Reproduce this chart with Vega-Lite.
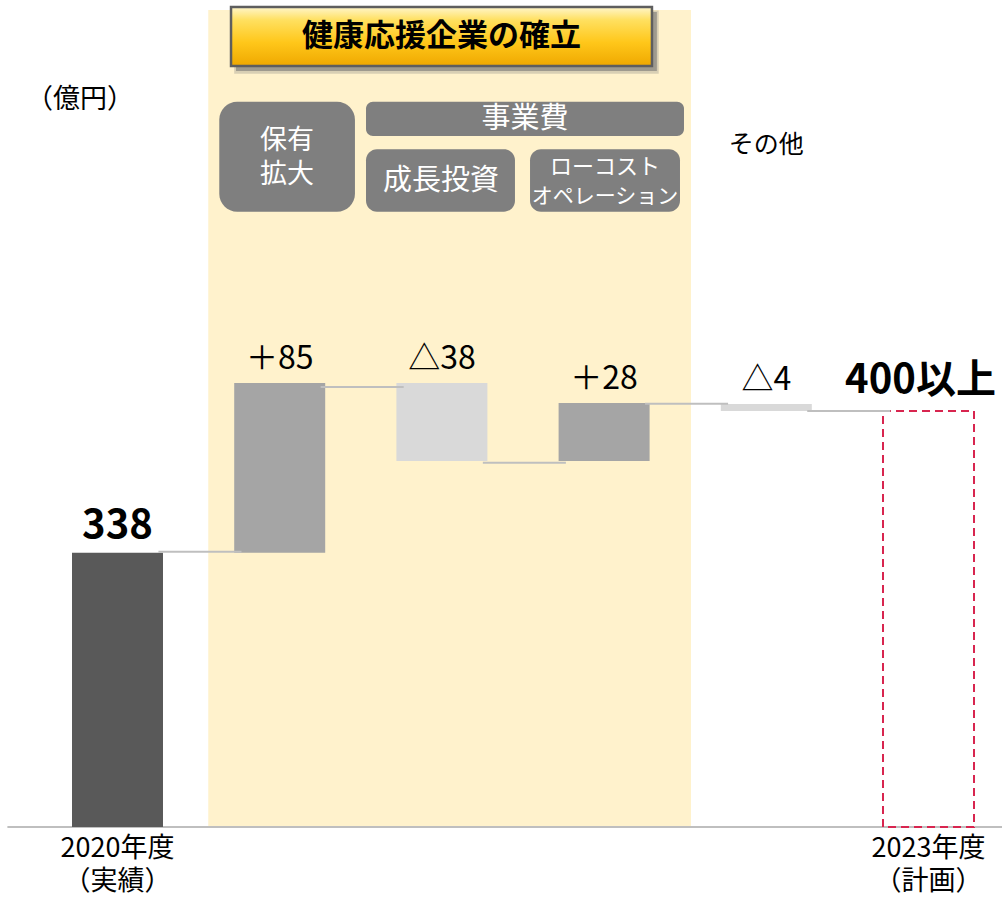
{
  "$schema": "https://vega.github.io/schema/vega-lite/v6.json",
  "width": 1002,
  "height": 898,
  "autosize": "none",
  "padding": 0,
  "background": "white",
  "config": {
    "view": {"stroke": null},
    "font": "Noto Sans CJK JP",
    "axis": {"disable": true},
    "text": {"font": "Noto Sans CJK JP"}
  },
  "datasets": {
    "bars": [
      {"cat": "2020年度", "start": 0, "end": 338, "kind": "実績", "label": "338", "axis1": "2020年度", "axis2": "（実績）"},
      {"cat": "保有拡大", "start": 338, "end": 547.1, "kind": "増加", "label": "＋85"},
      {"cat": "成長投資", "start": 547.1, "end": 451.0, "kind": "減少", "label": "△38"},
      {"cat": "ローコスト", "start": 451.0, "end": 522.5, "kind": "増加", "label": "＋28"},
      {"cat": "その他", "start": 521.2, "end": 512.6, "kind": "減少", "label": "△4"},
      {"cat": "2023年度", "start": 0, "end": 512.6, "kind": "計画", "label": "400以上", "axis1": "2023年度", "axis2": "（計画）"}
    ],
    "links": [
      {"from": "2020年度", "to": "保有拡大", "level": 339.2},
      {"from": "保有拡大", "to": "成長投資", "level": 542.2},
      {"from": "成長投資", "to": "ローコスト", "level": 448.9},
      {"from": "ローコスト", "to": "その他", "level": 521.6},
      {"from": "その他", "to": "2023年度", "level": 512.6}
    ]
  },
  "layer": [
    {
      "data": {"values": [{"zone": "健康応援企業の確立"}]},
      "mark": {"type": "rect", "fill": "#FFF2CC"},
      "encoding": {
        "x": {"datum": "保有拡大", "type": "nominal", "bandPosition": -0.285, "axis": null,
          "scale": {"type": "band", "domain": ["2020年度", "保有拡大", "成長投資", "ローコスト", "その他", "2023年度"], "range": [72, 974], "paddingInner": 0.439, "paddingOuter": 0}},
        "x2": {"datum": "ローコスト", "bandPosition": 1.455},
        "y": {"datum": 0, "type": "quantitative", "axis": null,
          "scale": {"domain": [-87.5, 1019], "nice": false, "zero": false}},
        "y2": {"datum": 1006.7}
      }
    },
    {
      "data": {"values": [{"axis": "baseline"}]},
      "mark": {"type": "rule", "color": "#BFBFBF", "strokeWidth": 2},
      "encoding": {
        "x": {"datum": "2020年度", "type": "nominal", "bandPosition": -0.71},
        "x2": {"datum": "2023年度", "bandPosition": 1.33},
        "y": {"datum": 0, "type": "quantitative", "axis": null}
      }
    },
    {
      "data": {"name": "bars"},
      "transform": [{"filter": "datum.kind !== '計画'"}],
      "mark": {"type": "bar"},
      "encoding": {
        "x": {"field": "cat", "type": "nominal", "sort": null, "axis": null},
        "y": {"field": "start", "type": "quantitative", "axis": null},
        "y2": {"field": "end"},
        "color": {"field": "kind", "type": "nominal", "legend": null,
          "scale": {"domain": ["実績", "増加", "減少"], "range": ["#595959", "#A5A5A5", "#D9D9D9"]}}
      }
    },
    {
      "data": {"name": "bars"},
      "transform": [{"filter": "datum.kind === '計画'"}],
      "mark": {"type": "bar", "fill": "transparent", "stroke": "#D8254F", "strokeWidth": 2, "strokeDash": [8, 5]},
      "encoding": {
        "x": {"field": "cat", "type": "nominal", "sort": null, "axis": null},
        "y": {"field": "start", "type": "quantitative", "axis": null},
        "y2": {"field": "end"}
      }
    },
    {
      "data": {"name": "links"},
      "mark": {"type": "rule", "color": "#BFBFBF", "strokeWidth": 2},
      "encoding": {
        "x": {"field": "from", "type": "nominal", "bandPosition": 0.95, "axis": null},
        "x2": {"field": "to", "bandPosition": 0.08},
        "y": {"field": "level", "type": "quantitative", "axis": null}
      }
    },
    {
      "data": {"name": "bars"},
      "transform": [{"filter": "datum.kind === '増加'"}],
      "mark": {"type": "text", "fontSize": 32, "color": "#000000", "baseline": "alphabetic", "dy": -14},
      "encoding": {
        "x": {"field": "cat", "type": "nominal", "axis": null},
        "y": {"field": "end", "type": "quantitative", "axis": null},
        "text": {"field": "label"}
      }
    },
    {
      "data": {"name": "bars"},
      "transform": [{"filter": "datum.kind === '減少'"}],
      "mark": {"type": "text", "fontSize": 32, "color": "#000000", "baseline": "alphabetic", "dy": -14},
      "encoding": {
        "x": {"field": "cat", "type": "nominal", "axis": null},
        "y": {"field": "start", "type": "quantitative", "axis": null},
        "text": {"field": "label"}
      }
    },
    {
      "data": {"name": "bars"},
      "transform": [{"filter": "datum.kind === '実績'"}],
      "mark": {"type": "text", "fontSize": 40, "fontWeight": "bold", "color": "#000000", "baseline": "alphabetic", "dy": -15},
      "encoding": {
        "x": {"field": "cat", "type": "nominal", "axis": null},
        "y": {"field": "end", "type": "quantitative", "axis": null},
        "text": {"field": "label"}
      }
    },
    {
      "data": {"name": "bars"},
      "transform": [{"filter": "datum.kind === '計画'"}],
      "mark": {"type": "text", "fontSize": 40, "fontWeight": "bold", "color": "#000000", "baseline": "alphabetic", "dy": -18, "dx": -8},
      "encoding": {
        "x": {"field": "cat", "type": "nominal", "axis": null},
        "y": {"field": "end", "type": "quantitative", "axis": null},
        "text": {"field": "label"}
      }
    },
    {
      "data": {"name": "bars"},
      "transform": [{"filter": "isValid(datum.axis1)"}],
      "mark": {"type": "text", "fontSize": 27, "color": "#000000", "baseline": "middle"},
      "encoding": {
        "x": {"field": "cat", "type": "nominal", "axis": null},
        "y": {"datum": -27.1, "type": "quantitative", "axis": null},
        "text": {"field": "axis1"}
      }
    },
    {
      "data": {"name": "bars"},
      "transform": [{"filter": "isValid(datum.axis2)"}],
      "mark": {"type": "text", "fontSize": 27, "color": "#000000", "baseline": "middle"},
      "encoding": {
        "x": {"field": "cat", "type": "nominal", "axis": null},
        "y": {"datum": -67.8, "type": "quantitative", "axis": null},
        "text": {"field": "axis2"}
      }
    },
    {
      "data": {"values": [{"part": "shadow"}]},
      "mark": {"type": "rect", "fill": "#7F7F7F", "opacity": 0.3},
      "encoding": {
        "x": {"datum": "保有拡大", "type": "nominal", "bandPosition": 0.0},
        "x2": {"datum": "ローコスト", "bandPosition": 1.1},
        "y": {"datum": 1006, "type": "quantitative"},
        "y2": {"datum": 928}
      }
    },
    {
      "data": {"values": [{"part": "shadow"}]},
      "mark": {"type": "rect", "fill": "#6F6F6F", "opacity": 0.55},
      "encoding": {
        "x": {"datum": "保有拡大", "type": "nominal", "bandPosition": 0.02},
        "x2": {"datum": "ローコスト", "bandPosition": 1.08},
        "y": {"datum": 1004.2, "type": "quantitative"},
        "y2": {"datum": 931.5}
      }
    },
    {
      "data": {"values": [{"title": "健康応援企業の確立"}]},
      "mark": {"type": "rect", "stroke": "#5E5E5E", "strokeWidth": 2.5,
        "fill": {"gradient": "linear", "x1": 0, "y1": 0, "x2": 0, "y2": 1,
          "stops": [{"offset": 0, "color": "#FFF6CC"}, {"offset": 0.22, "color": "#FFE060"}, {"offset": 0.6, "color": "#FFC71A"}, {"offset": 1, "color": "#EFA800"}]}},
      "encoding": {
        "x": {"datum": "保有拡大", "type": "nominal", "bandPosition": -0.035},
        "x2": {"datum": "ローコスト", "bandPosition": 1.026},
        "y": {"datum": 1010.4, "type": "quantitative"},
        "y2": {"datum": 937.7}
      }
    },
    {
      "data": {"values": [{"title": "健康応援企業の確立"}]},
      "mark": {"type": "text", "fontSize": 31, "fontWeight": "bold", "color": "#000000", "baseline": "middle"},
      "encoding": {
        "x": {"datum": "成長投資", "type": "nominal", "bandPosition": 0.496},
        "y": {"datum": 973.4, "type": "quantitative"},
        "text": {"field": "title"}
      }
    },
    {
      "data": {"values": [{"box": "保有拡大"}]},
      "mark": {"type": "rect", "fill": "#7F7F7F", "cornerRadius": 18},
      "encoding": {
        "x": {"datum": "保有拡大", "type": "nominal", "bandPosition": -0.164},
        "x2": {"datum": "保有拡大", "bandPosition": 1.327},
        "y": {"datum": 893.7, "type": "quantitative"},
        "y2": {"datum": 758.2}
      }
    },
    {
      "data": {"values": [{"box": "事業費"}]},
      "mark": {"type": "rect", "fill": "#7F7F7F", "cornerRadius": 7},
      "encoding": {
        "x": {"datum": "成長投資", "type": "nominal", "bandPosition": -0.334},
        "x2": {"datum": "ローコスト", "bandPosition": 1.378},
        "y": {"datum": 893.7, "type": "quantitative"},
        "y2": {"datum": 851.4}
      }
    },
    {
      "data": {"values": [{"box": "成長投資"}]},
      "mark": {"type": "rect", "fill": "#7F7F7F", "cornerRadius": 11},
      "encoding": {
        "x": {"datum": "成長投資", "type": "nominal", "bandPosition": -0.334},
        "x2": {"datum": "成長投資", "bandPosition": 1.303},
        "y": {"datum": 835.1, "type": "quantitative"},
        "y2": {"datum": 758.2}
      }
    },
    {
      "data": {"values": [{"box": "ローコストオペレーション"}]},
      "mark": {"type": "rect", "fill": "#7F7F7F", "cornerRadius": 11},
      "encoding": {
        "x": {"datum": "ローコスト", "type": "nominal", "bandPosition": -0.314},
        "x2": {"datum": "ローコスト", "bandPosition": 1.334},
        "y": {"datum": 835.1, "type": "quantitative"},
        "y2": {"datum": 758.2}
      }
    },
    {
      "data": {"values": [{"t": "保有"}]},
      "mark": {"type": "text", "fontSize": 27, "color": "white", "baseline": "middle"},
      "encoding": {
        "x": {"datum": "保有拡大", "type": "nominal", "bandPosition": 0.58},
        "y": {"datum": 845.3, "type": "quantitative"},
        "text": {"field": "t"}
      }
    },
    {
      "data": {"values": [{"t": "拡大"}]},
      "mark": {"type": "text", "fontSize": 27, "color": "white", "baseline": "middle"},
      "encoding": {
        "x": {"datum": "保有拡大", "type": "nominal", "bandPosition": 0.58},
        "y": {"datum": 803.4, "type": "quantitative"},
        "text": {"field": "t"}
      }
    },
    {
      "data": {"values": [{"t": "事業費"}]},
      "mark": {"type": "text", "fontSize": 29, "color": "white", "baseline": "middle"},
      "encoding": {
        "x": {"datum": "成長投資", "type": "nominal", "bandPosition": 1.413},
        "y": {"datum": 872.4, "type": "quantitative"},
        "text": {"field": "t"}
      }
    },
    {
      "data": {"values": [{"t": "成長投資"}]},
      "mark": {"type": "text", "fontSize": 29, "color": "white", "baseline": "middle"},
      "encoding": {
        "x": {"datum": "成長投資", "type": "nominal", "bandPosition": 0.49},
        "y": {"datum": 796.0, "type": "quantitative"},
        "text": {"field": "t"}
      }
    },
    {
      "data": {"values": [{"t": "ローコスト"}]},
      "mark": {"type": "text", "fontSize": 22, "color": "white", "baseline": "middle"},
      "encoding": {
        "x": {"datum": "ローコスト", "type": "nominal", "bandPosition": 0.51},
        "y": {"datum": 813.3, "type": "quantitative"},
        "text": {"field": "t"}
      }
    },
    {
      "data": {"values": [{"t": "オペレーション"}]},
      "mark": {"type": "text", "fontSize": 21, "color": "white", "baseline": "middle"},
      "encoding": {
        "x": {"datum": "ローコスト", "type": "nominal", "bandPosition": 0.51},
        "y": {"datum": 776.3, "type": "quantitative"},
        "text": {"field": "t"}
      }
    },
    {
      "data": {"values": [{"t": "（億円）"}]},
      "mark": {"type": "text", "fontSize": 27, "color": "#000000", "baseline": "middle"},
      "encoding": {
        "x": {"datum": "2020年度", "type": "nominal", "bandPosition": 0.088},
        "y": {"datum": 895.8, "type": "quantitative"},
        "text": {"field": "t"}
      }
    },
    {
      "data": {"values": [{"t": "その他"}]},
      "mark": {"type": "text", "fontSize": 25, "color": "#000000", "baseline": "middle"},
      "encoding": {
        "x": {"datum": "その他", "type": "nominal", "bandPosition": 0.5},
        "y": {"datum": 840.4, "type": "quantitative"},
        "text": {"field": "t"}
      }
    }
  ]
}
